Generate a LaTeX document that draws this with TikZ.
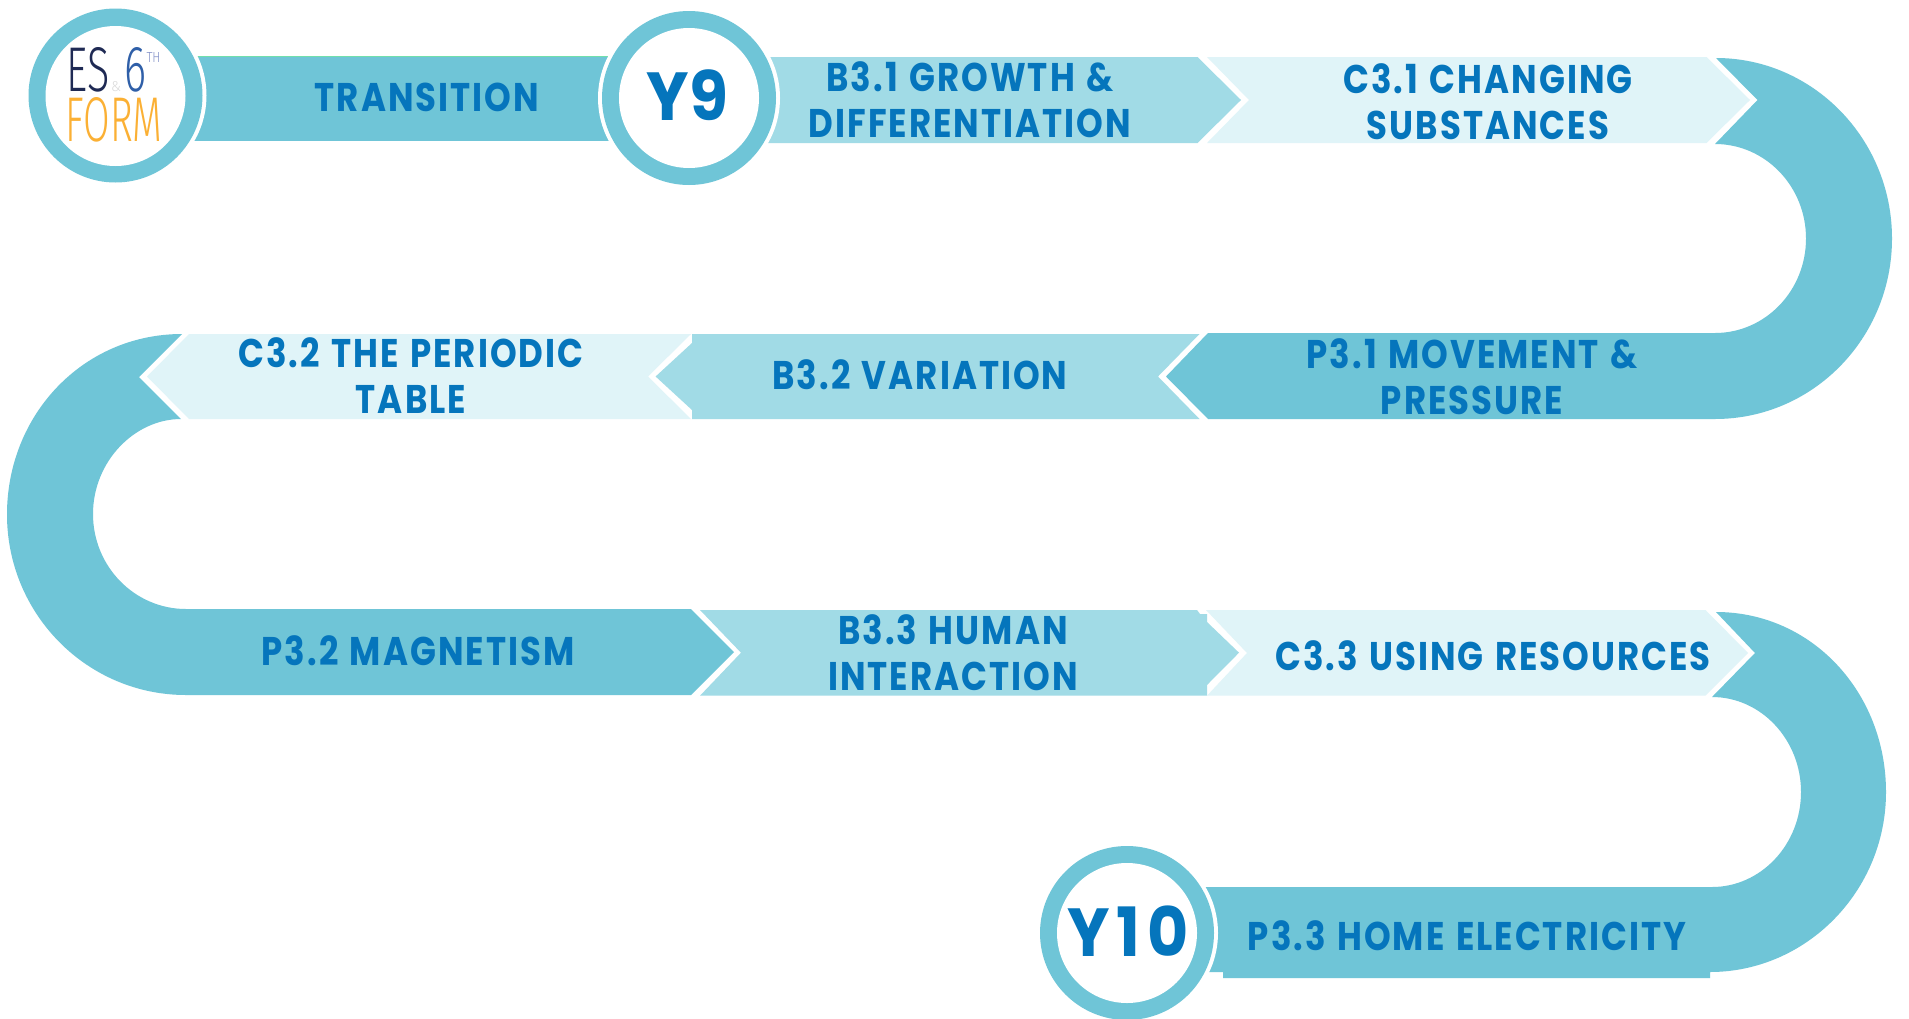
\documentclass[tikz,border=0pt]{standalone}
\usepackage{fontspec}
\setmainfont{Poppins}[FakeStretch=0.85,LetterSpace=5,WordSpace=1.25]
\newfontfamily\yninefont{Poppins}[FakeStretch=0.93]
\newfontfamily\ytenfont{Poppins}[FakeStretch=0.93,LetterSpace=10]
\newfontfamily\logofont{Fira Sans Light}
\definecolor{teal}{HTML}{6FC5D7}
\definecolor{mid}{HTML}{A1DBE6}
\definecolor{pale}{HTML}{E0F4F8}
\definecolor{ink}{HTML}{0575BC}
\definecolor{navy}{HTML}{1F2A54}
\definecolor{blue6}{HTML}{2F5FA8}
\definecolor{lilac}{HTML}{8391C8}
\definecolor{amber}{HTML}{FBB034}
\newcommand\logotxt[3]{\resizebox{#1pt}{#2pt}{\logofont #3}}
\tikzset{
  x=1pt,y=-1pt,
  lbl/.style={font=\fontsize{40}{46}\selectfont\bfseries,text=ink,align=center,inner sep=0pt},
  year/.style={text=ink,inner sep=0pt},
  logo/.style={inner sep=0pt,outer sep=0pt},
  halo/.style={fill=white,circle,minimum size=182pt,inner sep=0pt},
  ringo/.style={fill=teal,circle,minimum size=174pt,inner sep=0pt},
  core/.style={fill=white,circle,minimum size=140pt,inner sep=0pt},
}
\begin{document}
\begin{tikzpicture}
\fill[white] (0,0) rectangle (1909,1018);
\clip (0,0) rectangle (1909,1018);
% bars
\fill[teal] (194,56) -- (610,56) -- (610,141) -- (194,141) -- cycle;
\draw[color=teal!70!green!80!white,line width=1pt] (194,56) -- (610,56);
\fill[mid] (768,57) -- (1197.5,57) -- (1241,100) -- (1197.5,143) -- (768,143) -- cycle;
\fill[pale] (1207,57) -- (1706.5,57) -- (1750,100) -- (1706.5,143) -- (1207,143) -- (1249,100) -- cycle;
% first bend
\fill[teal] (1716,58) -- (1757.5,100) -- (1715,144) .. controls (1765.3,144) and (1806,186.3) .. (1806,238.5) .. controls (1806,290.7) and (1765.3,333) .. (1715,333) -- (1208,333) -- (1166,376.5) -- (1208,419) -- (1715,419) .. controls (1812.8,419) and (1892,338.2) .. (1892,238.5) .. controls (1892,138.8) and (1812.8,58) .. (1716,58) -- cycle;
\fill[mid] (692,334) -- (692,343) -- (655.6,376.5) -- (692,410) -- (692,419) -- (1199.5,419) -- (1158,376.5) -- (1199.5,334) -- cycle;
\fill[pale] (189,334) -- (691,334) -- (648,376.5) -- (691,419) -- (189,419) -- (147,376.5) -- cycle;
% second bend
\fill[teal] (182,334) -- (139,377) -- (181,419) .. controls (134.6,419) and (93,461.5) .. (93,514) .. controls (93,566.5) and (134.6,609) .. (186,609) -- (691,609) -- (734,652) -- (691,695) -- (186,695) .. controls (87.1,695) and (7,614.2) .. (7,514.5) .. controls (7,414.8) and (83,334) .. (182,334) -- cycle;
\fill[mid] (700,610) -- (1197,610) -- (1200,614) -- (1207,614) -- (1207,622) -- (1239,652.7) -- (1207,685) -- (1207,695.7) -- (700,695.7) -- (741,652.7) -- cycle;
\fill[pale] (1206,610) -- (1705.5,610) -- (1748,653) -- (1705.5,695.7) -- (1207,695.7) -- (1247,653) -- cycle;
% third bend
\fill[teal] (1716,612) -- (1755,653) -- (1712,697) .. controls (1761,697) and (1801,739.6) .. (1801,792) .. controls (1801,844.4) and (1761,887) .. (1712,887) -- (1200,887) -- (1200,972) -- (1223,972) -- (1223,978) -- (1710,978) -- (1710,972) .. controls (1806,972) and (1886,891.4) .. (1886,792) .. controls (1886,692.6) and (1812,612) .. (1716,612) -- cycle;
% circles
\node[halo] (logoHalo) at (115.5,95.5) {};
\node[ringo] (logoRing) at (115.5,95.5) {};
\node[core] (logoCore) at (115.5,96) {};
\node[halo] (y9Halo) at (689,98) {};
\node[ringo] (y9Ring) at (689,98) {};
\node[core] (y9Core) at (689,98) {};
\node[halo] (y10Halo) at (1127,933) {};
\node[ringo] (y10Ring) at (1127,933) {};
\node[core] (y10Core) at (1127,933) {};
% logo text
\node[logo,text=navy] (logoES) at (88,70) {\logotxt{43}{44}{ES}};
\node[logo,text=black!15] (logoAnd) at (116,87) {\logotxt{10}{10}{\&}};
\node[logo,text=blue6] (logoSix) at (135.5,70) {\logotxt{22}{44}{6}};
\node[logo,text=lilac] (logoTh) at (153.5,57.5) {\logotxt{14}{10}{TH}};
\node[logo,text=amber] (logoForm) at (114,120) {\logotxt{97}{44}{FORM}};
% labels
\node[lbl] (transition) at (427,97) {TRANSITION};
\node[year,font=\fontsize{68}{70}\yninefont\bfseries] (y9) at (687.5,95.5) {Y9};
\node[lbl] (b31) at (970,99.5) {B3.1 GROWTH \&\\DIFFERENTIATION};
\node[lbl] (c31) at (1488,102) {C3.1 CHANGING\\SUBSTANCES};
\node[lbl] (p31) at (1472,376.5) {P3.1 MOVEMENT \&\\PRESSURE};
\node[lbl] (b32) at (920,375) {B3.2 VARIATION};
\node[lbl] (c32) at (411,376) {C3.2 THE PERIODIC\\TABLE};
\node[lbl] (p32) at (418,650.5) {P3.2 MAGNETISM};
\node[lbl] (b33) at (953,653) {B3.3 HUMAN\\INTERACTION};
\node[lbl] (c33) at (1493,655.5) {C3.3 USING RESOURCES};
\node[lbl] (p33) at (1467,935.5) {P3.3 HOME ELECTRICITY};
\node[year,font=\fontsize{68}{70}\ytenfont\bfseries] (y10) at (1128,930.7) {Y10};
\end{tikzpicture}
\end{document}
